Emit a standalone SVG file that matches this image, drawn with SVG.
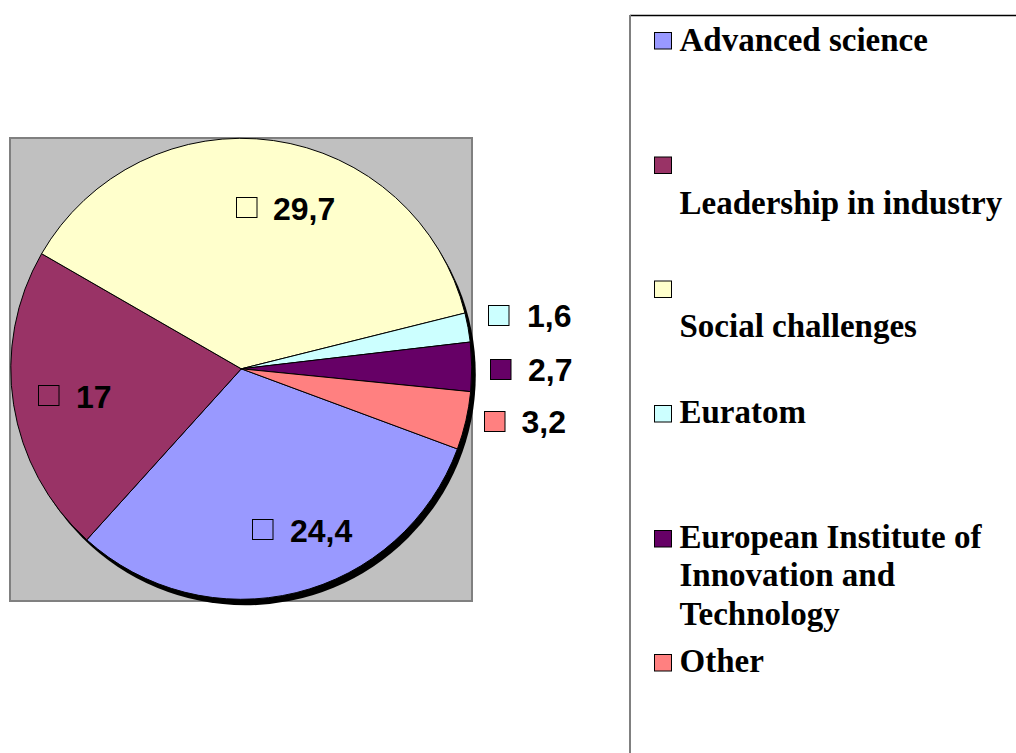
<svg xmlns="http://www.w3.org/2000/svg" width="1016" height="753" viewBox="0 0 1016 753">
<style>
.sl{stroke:#000;stroke-width:1;stroke-linejoin:round}
.key{stroke:#000;stroke-width:1}
.dl{font-family:"Liberation Sans",Arial,sans-serif;font-weight:bold;font-size:32px;fill:#000}
.lg{font-family:"Liberation Serif","Times New Roman",serif;font-weight:bold;font-size:33px;fill:#000}
</style>
<rect width="1016" height="753" fill="#fff"/>
<g id="plot-area">
<rect x="10" y="138" width="462" height="463" fill="#C0C0C0" stroke="#808080" stroke-width="2"/>
</g>
<g id="pie">
<circle cx="245.3" cy="374.8" r="230.5" fill="#000"/>
<path id="slice-advanced" class="sl" fill="#9999FF" d="M241.3,368.8 L457.41,448.95 A230.5,230.5 0 0 1 86.78,539.84 Z"/>
<path id="slice-leadership" class="sl" fill="#993366" d="M241.3,368.8 L86.78,539.84 A230.5,230.5 0 0 1 41.62,253.66 Z"/>
<path id="slice-social" class="sl" fill="#FFFFCC" d="M241.3,368.8 L41.62,253.66 A230.5,230.5 0 0 1 464.95,313.04 Z"/>
<path id="slice-euratom" class="sl" fill="#CCFFFF" d="M241.3,368.8 L464.95,313.04 A230.5,230.5 0 0 1 470.24,342.02 Z"/>
<path id="slice-eit" class="sl" fill="#660066" d="M241.3,368.8 L470.24,342.02 A230.5,230.5 0 0 1 470.66,391.67 Z"/>
<path id="slice-other" class="sl" fill="#FF8080" d="M241.3,368.8 L470.66,391.67 A230.5,230.5 0 0 1 457.41,448.95 Z"/>
</g>
<g id="data-labels">
<g id="label-social"><rect class="key" x="236.5" y="197.5" width="20.5" height="20" fill="#FFFFCC"/><text class="dl" x="273" y="220">29,7</text></g>
<g id="label-leadership"><rect class="key" x="38.5" y="385.5" width="20.5" height="20" fill="#993366"/><text class="dl" x="76" y="407.5">17</text></g>
<g id="label-advanced"><rect class="key" x="252.5" y="519.5" width="20.5" height="20" fill="#9999FF"/><text class="dl" x="290" y="541.5">24,4</text></g>
<g id="label-euratom"><rect class="key" x="488.5" y="305.5" width="20.5" height="20" fill="#CCFFFF"/><text class="dl" x="527" y="327">1,6</text></g>
<g id="label-eit"><rect class="key" x="490.5" y="359.5" width="20.5" height="20" fill="#660066"/><text class="dl" x="528" y="381">2,7</text></g>
<g id="label-other"><rect class="key" x="484.5" y="411.5" width="20.5" height="20" fill="#FF8080"/><text class="dl" x="521.5" y="433">3,2</text></g>
</g>
<g id="legend">
<line x1="630" y1="15.5" x2="1016" y2="15.5" stroke="#000" stroke-width="1.3"/>
<line x1="630" y1="15" x2="630" y2="753" stroke="#808080" stroke-width="2"/>
<g id="legend-advanced"><rect class="key" x="654.5" y="32.5" width="17" height="16.5" fill="#9999FF"/><text class="lg" x="679.5" y="50.5">Advanced science</text></g>
<g id="legend-leadership"><rect class="key" x="654.5" y="157" width="17" height="16.5" fill="#993366"/><text class="lg" x="679.5" y="213.5">Leadership in industry</text></g>
<g id="legend-social"><rect class="key" x="654.5" y="281" width="17" height="16.5" fill="#FFFFCC"/><text class="lg" x="679.5" y="336.5">Social challenges</text></g>
<g id="legend-euratom"><rect class="key" x="654.5" y="405.5" width="17" height="16.5" fill="#CCFFFF"/><text class="lg" x="679.5" y="423">Euratom</text></g>
<g id="legend-eit"><rect class="key" x="654.5" y="530.5" width="17" height="16.5" fill="#660066"/><text class="lg" x="679.5" y="547.5">European Institute of</text><text class="lg" x="679.5" y="586">Innovation and</text><text class="lg" x="679.5" y="625">Technology</text></g>
<g id="legend-other"><rect class="key" x="654.5" y="654.5" width="17" height="16.5" fill="#FF8080"/><text class="lg" x="679.5" y="672">Other</text></g>
</g>
</svg>
